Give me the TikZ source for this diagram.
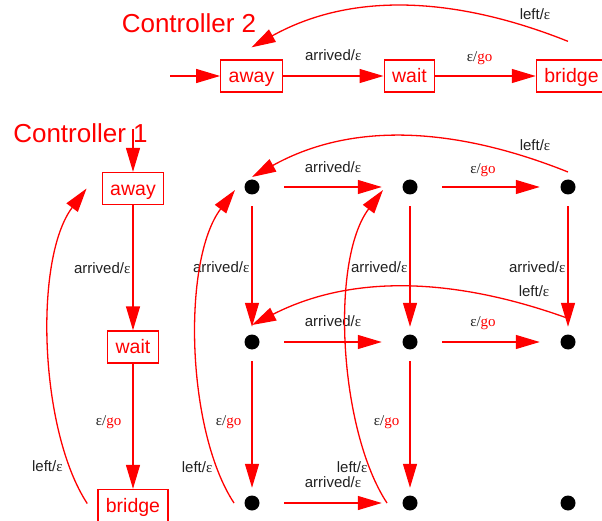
\documentclass[tikz,border=0pt]{standalone}
\usepackage{fontspec}
\setmainfont{Liberation Sans}
\newfontfamily\lserif{Liberation Serif}
\usetikzlibrary{arrows.meta}
\newcommand{\Eps}{{\lserif ε}}
\newcommand{\LArr}{arrived/\Eps}
\newcommand{\LLeft}{left/\Eps}
\newcommand{\LGo}{{\lserif ε/\textcolor{red}{go}}}
\begin{document}
\begin{tikzpicture}[x=1pt,y=-1pt,
  box/.style={draw=red, line width=1.3pt, text=red, font=\fontsize{19.5}{21}\selectfont,
    minimum height=32pt, inner xsep=8pt, inner ysep=0pt, text height=13.5pt, text depth=0pt},
  title/.style={text=red, font=\fontsize{26}{28}\selectfont, inner sep=0pt},
  lab/.style={text=black!87, font=\fontsize{15}{17}\selectfont, inner sep=0pt},
  arr/.style={draw=red, line width=1.3pt, -{Triangle[length=24pt,width=14pt]}},
  dot/.style={circle, fill=black, minimum size=15pt, inner sep=0pt},
  hs/.style={shorten <=24.5pt, shorten >=20.5pt},
  vs/.style={shorten <=11.5pt, shorten >=7.5pt}]
\useasboundingbox (0,0) rectangle (602,521);

% titles
\node[title, anchor=base] (t2) at (189,32.7) {Controller 2};
\node[title, anchor=base] (t1) at (80.5,142.7) {Controller 1};

% Controller 2
\node[box] (c2away) at (251.5,76) {away};
\node[box] (c2wait) at (409.5,76) {wait};
\node[box] (c2bridge) at (571.5,76) {bridge};
\coordinate (c2in) at (170,76);

% Controller 1
\node[box] (c1away) at (133,188.5) {away};
\node[box] (c1wait) at (133,347) {wait};
\node[box] (c1bridge) at (133,505.5) {bridge};
\coordinate (c1in) at (133,129);

% grid of dots
\foreach \x/\i in {252/1,410/2,568/3}
  \foreach \y/\j in {187/1,342/2,503/3}
    \node[dot] (d\j\i) at (\x,\y) {};

% Controller 2 edges
\draw[arr] (c2in) -- (c2away);
\draw[arr] (c2away) -- node[lab, yshift=21] {\LArr} (c2wait);
\draw[arr] (c2wait) -- node[lab, xshift=-6, yshift=18] {\LGo} (c2bridge);
\draw[arr] ([xshift=-3.5,yshift=18]c2bridge.north) node[lab, xshift=-33, yshift=27] {\LLeft}
  .. controls +(-100,-40) and +(108,-60) .. ([yshift=12]c2away.north);

% Controller 1 edges
\draw[arr] (c1in) -- (c1away);
\draw[arr] (c1away) -- node[lab, anchor=east, xshift=-2] {\LArr} (c1wait);
\draw[arr] (c1wait) -- node[lab, anchor=east, xshift=-11, yshift=4] {\LGo} (c1bridge);
\draw[arr] ([xshift=-10,yshift=2]c1bridge.west) node[lab, anchor=east, xshift=-24, yshift=37] {\LLeft}
  .. controls +(-48,-73) and +(-53,70) .. ([xshift=-15]c1away.west);

% grid horizontal
\draw[arr,hs] (d11) -- node[lab, xshift=2, yshift=20] {\LArr} (d12);
\draw[arr,hs] (d12) -- node[lab, xshift=-6, yshift=17] {\LGo} (d13);
\draw[arr,hs] (d21) -- node[lab, xshift=2, yshift=21] {\LArr} (d22);
\draw[arr,hs] (d22) -- node[lab, xshift=-6, yshift=19] {\LGo} (d23);
\draw[arr,hs] (d31) -- node[lab, xshift=2, yshift=21] {\LArr} (d32);

% grid vertical
\draw[arr,vs] (d11) -- node[lab, anchor=east, xshift=-2, yshift=-2.5] {\LArr} (d21);
\draw[arr,vs] (d12) -- node[lab, anchor=east, xshift=-2, yshift=-2.5] {\LArr} (d22);
\draw[arr,vs] (d13) -- node[lab, anchor=east, xshift=-2, yshift=-2.5] {\LArr} (d23);
\draw[arr,vs] (d21) -- node[lab, anchor=east, xshift=-10] {\LGo} (d31);
\draw[arr,vs] (d22) -- node[lab, anchor=east, xshift=-10] {\LGo} (d32);

% grid arcs
\draw[arr] ([yshift=15]d13.center) node[lab, xshift=-33, yshift=27] {\LLeft}
  .. controls +(-100,-40) and +(108,-60) .. ([yshift=10]d11.center);
\draw[arr] ([xshift=-1,yshift=24]d23.center) node[lab, xshift=-33, yshift=27] {\LLeft}
  .. controls +(-100,-36) and +(108,-55) .. ([yshift=17]d21.center);
\draw[arr] ([xshift=-18]d31.center) node[lab, anchor=east, xshift=-21, yshift=36] {\LLeft}
  .. controls +(-48,-73) and +(-53,70) .. ([xshift=-17,yshift=-3]d11.center);
\draw[arr] ([xshift=-23]d32.center) node[lab, anchor=east, xshift=-19, yshift=36] {\LLeft}
  .. controls +(-48,-73) and +(-53,70) .. ([xshift=-27,yshift=-3]d12.center);
\end{tikzpicture}
\end{document}
